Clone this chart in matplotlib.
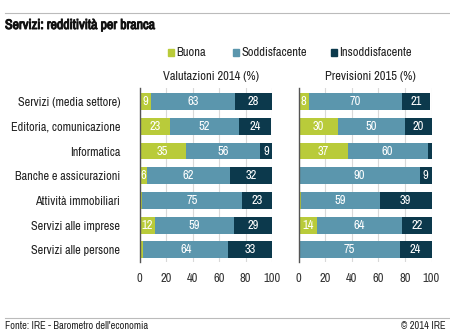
import matplotlib
matplotlib.use('Agg')
import matplotlib.pyplot as plt
from matplotlib import font_manager
from matplotlib import patheffects
from matplotlib.patches import Rectangle
from matplotlib.lines import Line2D

names = sorted({f.name for f in font_manager.fontManager.ttflist})
narrow = [n for n in names if 'Narrow' in n or 'Condensed' in n]
FONT = narrow[0] if narrow else 'Lato'
has_bold = any(f.name == FONT and f.weight in ('bold', 700)
               for f in font_manager.fontManager.ttflist)
plt.rcParams['font.family'] = [FONT, 'DejaVu Sans']

branches = ['Servizi (media settore)', 'Editoria, comunicazione', 'Informatica',
            'Banche e assicurazioni', 'Attività immobiliari',
            'Servizi alle imprese', 'Servizi alle persone']
series = ['Buona', 'Soddisfacente', 'Insoddisfacente']
colors = ['#b9cb3a', '#5b96ad', '#0c394c']

buona_2014 = [9, 23, 35, 6, 2, 12, 3]
sodd_2014 = [63, 52, 56, 62, 75, 59, 64]
insodd_2014 = [28, 24, 9, 32, 23, 29, 33]

buona_2015 = [8, 30, 37, 1, 2, 14, 1]
sodd_2015 = [70, 50, 60, 90, 59, 64, 75]
insodd_2015 = [21, 20, 3, 9, 39, 22, 24]

fig = plt.figure(figsize=(4.5, 3.33), dpi=100)
W, H = 450, 333
TXT = '#222222'


def draw_panel(ax, parts, show_labels):
    y = range(len(branches))
    left = [0] * len(branches)
    for vals, col in zip(parts, colors):
        ax.barh(y, vals, left=left, height=0.68, color=col, zorder=2)
        for i, v in enumerate(vals):
            if v >= 5:
                ax.text(left[i] + v / 2, i, str(v), ha='center', va='center',
                        color='white', fontsize=9, zorder=3)
        left = [a + b for a, b in zip(left, vals)]
    ax.set_xlim(0, 100)
    ax.set_ylim(6.49, -0.55)
    ax.set_xticks([0, 20, 40, 60, 80, 100])
    ax.grid(axis='x', color='#d9d9d9', linewidth=0.8, zorder=0)
    ax.tick_params(length=0, labelsize=9, colors='#333333', pad=8)
    ax.set_yticks(list(y))
    if show_labels:
        ax.set_yticklabels(branches, fontsize=8.8, color=TXT)
        ax.tick_params(axis='y', pad=14)
    else:
        ax.set_yticklabels([])
    for s in ['top', 'right', 'bottom']:
        ax.spines[s].set_visible(False)
    ax.spines['left'].set_color('#555555')
    ax.spines['left'].set_linewidth(1.0)
    ax.spines['left'].set_zorder(4)


ax1 = fig.add_axes([139.5 / W, 1 - 262 / H, 132.5 / W, 174 / H])
ax2 = fig.add_axes([298.5 / W, 1 - 262 / H, 133 / W, 174 / H])
draw_panel(ax1, [buona_2014, sodd_2014, insodd_2014], True)
draw_panel(ax2, [buona_2015, sodd_2015, insodd_2015], False)

fig.text(211 / W, 1 - 76 / H, 'Valutazioni 2014 (%)', fontsize=9, color=TXT,
         ha='center', va='center')
fig.text(370.5 / W, 1 - 76 / H, 'Previsioni 2015 (%)', fontsize=9, color=TXT,
         ha='center', va='center')

# header
fig.add_artist(Line2D([5 / W, 1], [1 - 13 / H] * 2, color='#bbbbbb', linewidth=0.8))
title = fig.text(5 / W, 1 - 25 / H, 'Servizi: redditività per branca', fontsize=10,
                 fontweight='bold', va='center', ha='left', color='#111111')
if not has_bold:
    title.set_path_effects([patheffects.withStroke(linewidth=0.7, foreground='#111111')])

# legend
for x, lab, col in zip([168, 233, 331], series, colors):
    fig.add_artist(Rectangle((x / W, 1 - 55.5 / H), 6 / W, 6 / H, color=col))
    fig.text((x + 8) / W, 1 - 52.5 / H, lab, fontsize=9, va='center', ha='left',
             color=TXT)

# footer
fig.add_artist(Line2D([5 / W, 1], [1 - 318 / H] * 2, color='#bbbbbb', linewidth=0.8))
fig.text(5 / W, 1 - 326 / H, "Fonte: IRE - Barometro dell'economia", fontsize=7.5,
         va='center', ha='left', color=TXT)
fig.text(446 / W, 1 - 326 / H, '© 2014 IRE', fontsize=7.5, va='center', ha='right',
         color=TXT)

fig.savefig('out.png', dpi=100)
